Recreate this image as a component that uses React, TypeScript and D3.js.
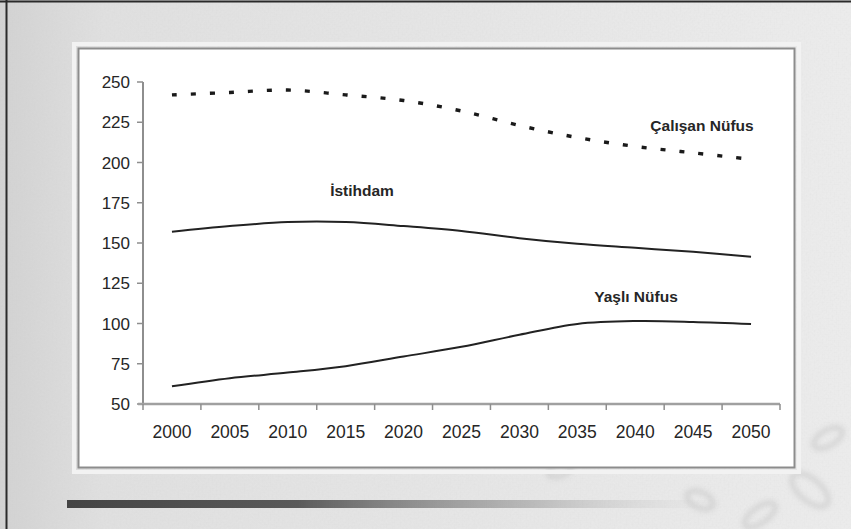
import React from "react";
import * as d3 from "d3";

// Years on the category axis
const years: string[] = ["2000", "2005", "2010", "2015", "2020", "2025", "2030", "2035", "2040", "2045", "2050"];

// Series values (millions)
const calisanNufus: number[] = [242, 243.5, 245, 242, 238.5, 232, 223, 215.5, 210, 206, 202];
const istihdam: number[] = [157, 160.5, 163, 163, 160.5, 157.5, 153, 149.5, 147, 144.5, 141.5];
const yasliNufus: number[] = [61, 66, 69.5, 73.5, 79.5, 85.5, 93, 99.7, 101.5, 101, 99.7];

const yTicks: number[] = [50, 75, 100, 125, 150, 175, 200, 225, 250];

const W = 851;
const H = 529;

export default function App() {
  const x = d3.scaleBand<string>().domain(years).range([143, 780]).padding(0);
  const y = d3.scaleLinear().domain([50, 250]).range([404, 82]);
  const cx = (yr: string) => (x(yr) as number) + x.bandwidth() / 2;

  const line = d3
    .line<number>()
    .x((_, i) => cx(years[i]))
    .y((v) => y(v))
    .curve(d3.curveCatmullRom.alpha(0.5));

  const font = "'Liberation Sans', Arial, sans-serif";
  const boundaries = years.map((yr) => x(yr) as number).concat([780]);

  return (
    <svg
      width={W}
      height={H}
      viewBox={`0 0 ${W} ${H}`}
      style={{ position: "absolute", left: 0, top: 0, display: "block" }}
    >
      <defs>
        <linearGradient id="bg" x1="0" y1="0" x2="1" y2="0">
          <stop offset="0" stopColor="#d2d2d2" />
          <stop offset="0.12" stopColor="#e0e0e0" />
          <stop offset="0.7" stopColor="#e8e8e8" />
          <stop offset="1" stopColor="#ececec" />
        </linearGradient>
        <filter id="grain" x="0" y="0" width="100%" height="100%">
          <feTurbulence type="fractalNoise" baseFrequency="0.5" numOctaves="3" seed="4" />
          <feColorMatrix
            type="matrix"
            values="0 0 0 0 0.55  0 0 0 0 0.55  0 0 0 0 0.55  0 0 0 0.6 -0.15"
          />
        </filter>
        <filter id="soft">
          <feGaussianBlur stdDeviation="2.5" />
        </filter>
        <linearGradient id="bar" x1="0" y1="0" x2="1" y2="0">
          <stop offset="0" stopColor="#444" />
          <stop offset="0.35" stopColor="#5a5a5a" />
          <stop offset="0.7" stopColor="#9a9a9a" stopOpacity="0.6" />
          <stop offset="1" stopColor="#d8d8d8" stopOpacity="0" />
        </linearGradient>
      </defs>

      {/* textured backdrop */}
      <rect x={0} y={0} width={W} height={H} fill="url(#bg)" />
      <rect x={0} y={0} width={W} height={H} filter="url(#grain)" opacity={0.3} />
      <g filter="url(#soft)" fill="none" stroke="#c4c4c4" strokeWidth={5} opacity={0.55}>
        <ellipse cx={828} cy={438} rx={16} ry={8} transform="rotate(-30 828 438)" />
        <ellipse cx={810} cy={490} rx={22} ry={11} transform="rotate(40 810 490)" />
        <ellipse cx={700} cy={500} rx={14} ry={8} transform="rotate(25 700 500)" />
        <ellipse cx={560} cy={470} rx={12} ry={6} transform="rotate(-20 560 470)" />
        <ellipse cx={760} cy={515} rx={18} ry={8} transform="rotate(-35 760 515)" />
      </g>

      {/* frame edges */}
      <line x1={6.5} y1={0} x2={6.5} y2={H} stroke="#2a2a2a" strokeWidth={2} />
      <line x1={0} y1={1.5} x2={W} y2={1.5} stroke="#2a2a2a" strokeWidth={2} />

      {/* chart panel */}
      <rect x={74} y={44} width={725} height={428} fill="none" stroke="#f2f2f2" strokeWidth={4} />
      <rect x={78.5} y={48.5} width={716} height={419} fill="#ffffff" stroke="#8c8c8c" strokeWidth={2} />

      {/* y axis */}
      <line x1={143} y1={82} x2={143} y2={404} stroke="#8e8e8e" strokeWidth={2} />
      {yTicks.map((t) => (
        <g key={t}>
          <line x1={137} y1={y(t)} x2={143} y2={y(t)} stroke="#8e8e8e" strokeWidth={1.5} />
          <text
            x={130}
            y={y(t)}
            dy="0.36em"
            textAnchor="end"
            fontFamily={font}
            fontSize={17}
            fill="#262626"
          >
            {t}
          </text>
        </g>
      ))}

      {/* x axis */}
      <line x1={138} y1={404} x2={780} y2={404} stroke="#a0a0a0" strokeWidth={2.5} />
      {boundaries.map((bx, i) => (
        <line key={i} x1={bx} y1={404} x2={bx} y2={410} stroke="#8e8e8e" strokeWidth={1.5} />
      ))}
      {years.map((yr) => (
        <text
          key={yr}
          x={cx(yr)}
          y={438}
          textAnchor="middle"
          fontFamily={font}
          fontSize={17.5}
          fill="#262626"
        >
          {yr}
        </text>
      ))}

      {/* series */}
      <path
        d={line(calisanNufus) || ""}
        fill="none"
        stroke="#1a1a1a"
        strokeWidth={3.4}
        strokeDasharray="5,14"
        strokeLinecap="butt"
      />
      <path d={line(istihdam) || ""} fill="none" stroke="#222" strokeWidth={2} />
      <path d={line(yasliNufus) || ""} fill="none" stroke="#222" strokeWidth={2} />

      {/* series labels */}
      <g fontFamily={font} fontSize={15.5} fontWeight="bold" fill="#262626">
        <text x={702} y={131} textAnchor="middle">Çalışan Nüfus</text>
        <text x={362} y={196} textAnchor="middle">İstihdam</text>
        <text x={636} y={302} textAnchor="middle">Yaşlı Nüfus</text>
      </g>

      {/* decorative rule under the panel */}
      <rect x={67} y={500} width={660} height={8} fill="url(#bar)" />
    </svg>
  );
}
